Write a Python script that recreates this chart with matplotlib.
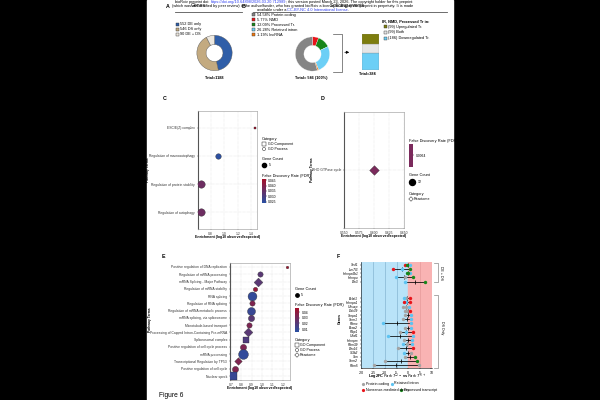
"""
Figure 6 page: gene / splicing-event donuts, enrichment dot plots and the
Log2FC range plot, laid out on a black letterbox like the screenshot.
"""
import matplotlib

matplotlib.use("Agg")
import matplotlib.pyplot as plt  # noqa: E402
import numpy as np  # noqa: E402
from matplotlib.colors import LinearSegmentedColormap, Normalize  # noqa: E402
from matplotlib.patches import Rectangle  # noqa: E402

plt.rcParams["font.family"] = ["Liberation Sans", "DejaVu Sans"]

# ---- A: genes --------------------------------------------------------------
a_labels = ["552 DE only", "546 DS only", "90 DE + DS"]
a_counts = [552, 546, 90]
a_colors = ["#2f5ea8", "#c3aa80", "#ede8df"]

# ---- B: splicing events ----------------------------------------------------
b_labels = ["54.58% Protein coding", "5.77% NMD", "12.09% Processed Tr.",
            "26.28% Retained intron", "1.19% lncRNA"]
b_pct = [54.58, 5.77, 12.09, 26.28, 1.19]
b_colors = ["#858585", "#e8141a", "#17861a", "#6ccff6", "#f07810"]
b_ring = [1, 2, 3, 4, 0]          # clockwise from 12 o'clock
bar_labels = ["(99) Upregulated Tr.", "(99) Both", "(186) Downregulated Tr."]
bar_counts = [99, 99, 186]
bar_colors = ["#7d7d0e", "#e6e6e6", "#6ccff6"]

# ---- C / D / E: enrichment -------------------------------------------------
c_terms = ["ESC/E(Z) complex", "Regulation of macroautophagy",
           "Regulation of protein stability", "Regulation of autophagy"]
c_enrich = [1.45, 0.91, 0.655, 0.655]
c_fdr = [0.046, 0.024, 0.036, 0.036]
c_count = [2, 5, 7, 7]
c_cat = ["GO Component", "GO Process", "GO Process", "GO Process"]
c_ticks = [0.8, 1.0, 1.2, 1.4]
c_bar_ticks = [0.045, 0.040, 0.035, 0.030, 0.025]

d_terms = ["RHO GTPase cycle"]
d_enrich = [0.600]
d_fdr = [0.0064]
d_count = [12]
d_cat = ["Reactome"]
d_ticks = [0.550, 0.575, 0.600, 0.625, 0.650]

e_terms = ["Positive regulation of DNA replication", "Regulation of mRNA processing",
           "mRNA Splicing - Major Pathway", "Regulation of mRNA stability",
           "RNA splicing", "Regulation of RNA splicing",
           "Regulation of mRNA metabolic process", "mRNA splicing, via spliceosome",
           "Microtubule-based transport",
           "Processing of Capped Intron-Containing Pre-mRNA",
           "Spliceosomal complex", "Positive regulation of cell cycle process",
           "mRNA processing", "Transcriptional Regulation by TP53",
           "Positive regulation of cell cycle", "Nuclear speck"]
e_enrich = [1.24, 0.98, 0.958, 0.932, 0.906, 0.90, 0.89, 0.89, 0.877, 0.867,
            0.842, 0.819, 0.813, 0.771, 0.742, 0.722]
e_fdr = [0.046, 0.021, 0.021, 0.041, 0.008, 0.034, 0.010, 0.021, 0.033, 0.021,
         0.018, 0.033, 0.008, 0.034, 0.034, 0.010]
e_count = [2, 5, 6, 4, 9, 5, 8, 6, 5, 6, 5, 6, 10, 5, 6, 7]
e_cat = ["GO Process", "GO Process", "Reactome", "GO Process", "GO Process",
         "GO Process", "GO Process", "GO Process", "GO Process", "Reactome",
         "GO Component", "GO Process", "GO Process", "Reactome", "GO Process",
         "GO Component"]
e_ticks = [0.7, 0.8, 0.9, 1.0, 1.1, 1.2]
e_bar_ticks = [0.04, 0.03, 0.02, 0.01]

# ---- F: Log2FC per transcript type ----------------------------------------
f_genes = ["Srsf1", "Luc7l3", "Hnrnpa2b1", "Hnrnpu", "Dlx3",
           "Bclaf1", "Hnrnpa1", "U2surp", "Ddx39", "Snrpa1", "Srrm1", "Rbmx",
           "Bcas2", "Ptbp1", "U2af1", "Hnrnpm", "Rbm39", "Dhx16", "Sf3b2",
           "Son", "Srrm2", "Rbm5"]
f_group_sizes = [5, 17]           # DE + DS, DS Only
f_pc = [[], [], [], [-1.5], [], [-0.8], [], [-2.2, -0.8], [-1.4, -0.3], [-1.4],
        [-2.0], [], [-1.2], [-3.7], [], [-1.8], [-0.5], [-4.2], [1.1], [-1.5],
        [-10.0], [-14.8, 4.7]]
f_ri = [[0.9], [-2.5], [1.0], [-5.4], [-1.3], [-1.8], [-0.7], [0.6], [], [1.3],
        [1.4], [-10.9, 1.4], [1.4], [-0.8], [-8.5, 1.9], [1.8], [-2.4, 1.8], [],
        [-1.6], [], [], []]
f_nmd = [[-1.3], [-6.5], [], [], [], [0.8], [-1.7, 0.9], [], [1.0], [], [], [],
         [], [1.9], [], [], [], [2.0], [], [], [], []]
f_pt = [[-0.3], [1.0], [-0.6, 0.1], [2.2], [7.3], [], [], [], [], [], [], [],
        [], [], [], [], [], [], [], [3.0], [3.8], []]
f_ticks = [-20, -15, -10, -5, 0, 5, 10]

CMAP = LinearSegmentedColormap.from_list("fdr", ["#2a50a2", "#a5102a"])
MARK = {"GO Component": "s", "GO Process": "o", "Reactome": "D"}
TYPE_COL = {"pc": "#a3a3a3", "ri": "#5cc3f2", "nmd": "#e8141a", "pt": "#17861a"}

W, H = 600, 400
fig = plt.figure(figsize=(6, 4), dpi=100, facecolor="black")
pg = fig.add_axes([0, 0, 1, 1])
pg.set_xlim(0, W)
pg.set_ylim(H, 0)
pg.axis("off")
pg.add_patch(Rectangle((147, 0), 306, H, color="white", zorder=0))

LEG = 2.8      # legend text
TICK = 2.4     # tick labels


def box(l, t, r, b):
    return fig.add_axes([l / W, 1 - b / H, (r - l) / W, (b - t) / H])


def txt(x, y, s, size=LEG, **kw):
    kw.setdefault("va", "center")
    kw.setdefault("ha", "left")
    return pg.text(x, y, s, fontsize=size, **kw)


def run(y, parts, x0=None, xc=None, size=2.8):
    r = fig.canvas.get_renderer()
    objs = [txt(0, y, s, size, color=c) for s, c in parts]
    ws = [o.get_window_extent(renderer=r).width for o in objs]
    x = x0 if x0 is not None else xc - sum(ws) / 2
    for o, w in zip(objs, ws):
        o.set_x(x)
        x += w


def msize(d):                      # marker diameter in px -> scatter s
    return (d * 0.72) ** 2


# ---- header ---------------------------------------------------------------
LINK = "#2b3cf0"
run(2, [("bioRxiv preprint doi: ", "k"),
        ("https://doi.org/10.64898/2026.03.20.712989", LINK),
        ("; this version posted March 23, 2026. The copyright holder for this preprint", "k")],
    x0=175)
run(6.2, [("(which was not certified by peer review) is the author/funder, who has granted "
           "bioRxiv a license to display the preprint in perpetuity. It is made", "k")], x0=172)
run(10.4, [("available under a", "k"), ("CC-BY-NC 4.0 International license", LINK),
           (".", "k")], xc=303)

txt(168, 6, "A", 3.8, weight="bold", ha="center")
txt(244, 6, "B", 3.8, weight="bold", ha="center")
txt(198, 5.5, "Genes", 3.6, ha="center")
txt(347, 5.5, "Splicing events", 3.6, ha="center")
pg.plot([175, 242], [12, 12], color="#555555", lw=0.6)
pg.plot([253, 447], [12, 12], color="#555555", lw=0.6)

# ---- A donut --------------------------------------------------------------
axA = box(196.5, 35, 232.5, 71)
axA.pie(a_counts, colors=a_colors, startangle=90, counterclock=False,
        wedgeprops=dict(width=0.52, edgecolor="#555555", linewidth=0.3))
axA.set_xlim(-1.02, 1.02)
axA.set_ylim(-1.02, 1.02)
for i, lab in enumerate(a_labels):
    y = 24 + 5 * i
    pg.add_patch(Rectangle((175.5, y - 1.5), 3, 3, fc=a_colors[i], ec="#333333", lw=0.3))
    txt(180.5, y, lab)
txt(215, 78, "Total=1188", weight="bold", ha="center")

# ---- B donut + bar --------------------------------------------------------
axB = box(295, 36, 330, 72)
axB.pie([b_pct[i] for i in b_ring], colors=[b_colors[i] for i in b_ring],
        startangle=90, counterclock=False,
        wedgeprops=dict(width=0.5, edgecolor="white", linewidth=0.2))
axB.set_xlim(-1.02, 1.02)
axB.set_ylim(-1.02, 1.02)
for i, lab in enumerate(b_labels):
    y = 14.7 + 5.05 * i
    pg.add_patch(Rectangle((252, y - 1.5), 3, 3, fc=b_colors[i], ec="#333333", lw=0.3))
    txt(256.7, y, lab)
txt(311.5, 77.7, "Total= 546 (100%)", weight="bold", ha="center")

pg.plot([333, 341.7, 341.7, 333], [34, 34, 72, 72], color="#555555", lw=0.5)
pg.annotate("", xy=(352, 52.3), xytext=(342, 52.3),
            arrowprops=dict(arrowstyle="-|>", color="black", lw=0.5, mutation_scale=4))

axBar = box(362, 34.3, 379, 70)
bottom = 0
for i in [2, 1, 0]:
    axBar.bar(0, bar_counts[i], bottom=bottom, width=1, color=bar_colors[i],
              edgecolor="#888888", linewidth=0.2)
    bottom += bar_counts[i]
axBar.set_xlim(-0.5, 0.5)
axBar.set_ylim(0, sum(bar_counts))
axBar.axis("off")
txt(368, 74, "Total=384", weight="bold", ha="center")
txt(382, 21, "IR, NMD, Processed Tr in:", weight="bold")
for i, lab in enumerate(bar_labels):
    y = 26.7 + 5.8 * i
    pg.add_patch(Rectangle((384.3, y - 1.5), 3, 3, fc=bar_colors[i], ec="#333333", lw=0.3))
    txt(388.5, y, lab)


# ---- enrichment dot plots --------------------------------------------------
def dot_panel(rect, terms, enrich, fdr, count, cat, xlim, ticks, fmt, norm, pad, k):
    ax = box(*rect)
    ys = np.arange(len(terms))
    for i in range(len(terms)):
        col = CMAP(norm(fdr[i])) if norm is not None else "#7b2a5c"
        ax.scatter(enrich[i], ys[i], s=msize(k * count[i] + 0.8), marker=MARK[cat[i]],
                   color=col, edgecolors="#2a2a2a", linewidths=0.25, zorder=3)
    ax.set_yticks(ys)
    ax.set_yticklabels(terms, fontsize=TICK)
    ax.set_ylim(len(terms) - 1 + pad, -pad)
    ax.set_xlim(*xlim)
    ax.set_xticks(ticks)
    ax.set_xticklabels([fmt.format(t) for t in ticks], fontsize=TICK)
    ax.grid(True, ls=":", lw=0.35, color="#cfcfcf")
    ax.tick_params(length=1, width=0.3, pad=1, colors="#333333")
    for s in ax.spines.values():
        s.set_color("#aaaaaa")
        s.set_linewidth(0.5)
    ax.spines["left"].set_color("#555555")
    ax.spines["left"].set_linewidth(0.8)
    return ax


def fdr_bar(l, t, r, b, vmin, vmax, ticks, fmt, color=None):
    cax = box(l, t, r, b)
    if color is None:
        grad = np.linspace(vmin, vmax, 100)[:, None]
        cax.imshow(grad, aspect="auto", cmap=CMAP, norm=Normalize(vmin, vmax),
                   origin="lower", extent=[0, 1, vmin, vmax])
    else:
        cax.add_patch(Rectangle((0, vmin), 1, vmax - vmin, color=color))
        cax.set_xlim(0, 1)
        cax.set_ylim(vmin, vmax)
    cax.set_xticks([])
    cax.yaxis.tick_right()
    cax.set_yticks(ticks)
    cax.set_yticklabels([fmt.format(t) for t in ticks], fontsize=TICK)
    cax.tick_params(length=0.8, width=0.3, pad=1)
    for s in cax.spines.values():
        s.set_visible(False)


# C
c_norm = Normalize(0.0236, 0.0464)
dot_panel((198, 111, 257, 229), c_terms, c_enrich, c_fdr, c_count, c_cat,
          (0.612, 1.486), c_ticks, "{:.1f}", c_norm, 0.6, 0.95)
txt(165, 98, "C", 3.8, weight="bold", ha="center")
txt(148.5, 170, "Pathway Terms", 2.4, weight="bold", rotation=90, ha="center")
txt(227.5, 237, "Enrichment (log10 observed/expected)", 2.5, weight="bold", ha="center")
txt(262, 139, "Category")
pg.scatter(264, 144, s=msize(3.2), marker="s", facecolors="none", edgecolors="k", linewidths=0.3)
txt(268, 144, "GO Component", 2.6)
pg.scatter(264, 149, s=msize(3.2), marker="o", facecolors="none", edgecolors="k", linewidths=0.3)
txt(268, 149, "GO Process", 2.6)
txt(262, 159, "Gene Count")
pg.scatter(264, 165, s=msize(4.2), marker="o", color="k")
txt(269, 165, "5", 2.6)
txt(262, 176, "False Discovery Rate (FDR)")
fdr_bar(262, 179, 265.5, 203, 0.0236, 0.0464, c_bar_ticks, "{:.3f}")

# D
dot_panel((344, 112, 404, 228), d_terms, d_enrich, d_fdr, d_count, d_cat,
          (0.55, 0.65), d_ticks, "{:.3f}", None, 1.0, 0.5)
txt(323, 98, "D", 3.8, weight="bold", ha="center")
txt(312, 170, "Pathway Terms", 2.4, weight="bold", rotation=90, ha="center")
txt(374, 236, "Enrichment (log10 observed/expected)", 2.5, weight="bold", ha="center")
txt(409, 141, "False Discovery Rate (FDR)")
fdr_bar(409, 143.5, 413, 167, 0.0, 1.0, [0.5], "0.0064", color="#7b2a5c")
txt(409, 175, "Gene Count")
pg.scatter(412, 182, s=msize(6), marker="o", color="k")
txt(418, 182, "12", 2.6)
txt(409, 194, "Category")
pg.scatter(411, 199, s=msize(3.2), marker="D", facecolors="none", edgecolors="k", linewidths=0.3)
txt(414, 199, "Reactome", 2.6)

# E
e_norm = Normalize(0.005, 0.047)
dot_panel((230, 263, 290, 380), e_terms, e_enrich, e_fdr, e_count, e_cat,
          (0.69, 1.27), e_ticks, "{:.1f}", e_norm, 0.55, 0.9)
txt(163, 257, "E", 3.8, weight="bold", ha="center")
txt(150, 320, "Pathway Terms", 2.4, weight="bold", rotation=90, ha="center")
txt(260, 388, "Enrichment (log10 observed/expected)", 2.5, weight="bold", ha="center")
txt(295, 289, "Gene Count")
pg.scatter(297, 295, s=msize(3.4), marker="o", color="k")
txt(301, 295, "5", 2.6)
txt(295, 305, "False Discovery Rate (FDR)")
fdr_bar(295, 308, 299, 332, 0.005, 0.047, e_bar_ticks, "{:.2f}")
txt(295, 340, "Category")
pg.scatter(297, 345, s=msize(3.2), marker="s", facecolors="none", edgecolors="k", linewidths=0.3)
txt(300, 345, "GO Component", 2.6)
pg.scatter(297, 350, s=msize(3.2), marker="o", facecolors="none", edgecolors="k", linewidths=0.3)
txt(300, 350, "GO Process", 2.6)
pg.scatter(297, 355, s=msize(3.2), marker="D", facecolors="none", edgecolors="k", linewidths=0.3)
txt(300, 355, "Reactome", 2.6)

# ---- F: range plot --------------------------------------------------------
axF = box(361, 262, 432, 368)
gap = 3
slots = list(range(f_group_sizes[0])) + \
    list(range(f_group_sizes[0] + gap, f_group_sizes[0] + gap + f_group_sizes[1]))
n_slots = slots[-1] + 1
axF.axvspan(-20.3, 0, color="#b9e3f8", zorder=0)
axF.axvspan(0, 10.3, color="#f9b3b3", zorder=0)
for v in [-15, -10, -5]:
    axF.axvline(v, color="#86b6d2", lw=0.5, zorder=1)
axF.axvline(5, color="#e59a9a", lw=0.5, zorder=1)
for i, g in enumerate(f_genes):
    y = slots[i]
    vals = f_pc[i] + f_ri[i] + f_nmd[i] + f_pt[i]
    axF.plot([min(vals), max(vals)], [y, y], color="black", lw=0.55, zorder=2)
    axF.plot([np.mean(vals)], [y], marker="|", ms=2.8, mew=0.55, color="black", zorder=2)
    for key, arr in (("pc", f_pc), ("ri", f_ri), ("nmd", f_nmd), ("pt", f_pt)):
        if arr[i]:
            axF.scatter(arr[i], [y] * len(arr[i]), s=msize(3.4), color=TYPE_COL[key],
                        linewidths=0, zorder=3)
axF.set_xlim(-20.3, 10.3)
axF.set_ylim(n_slots - 1 + 0.7, -0.7)
axF.set_yticks(slots)
axF.set_yticklabels(f_genes, fontsize=2.3, style="italic")
axF.set_xticks(f_ticks)
axF.set_xticklabels([str(t) for t in f_ticks], fontsize=2.5)
axF.tick_params(length=1, width=0.3, pad=1)
for s in ("top", "right"):
    axF.spines[s].set_visible(False)
for s in ("left", "bottom"):
    axF.spines[s].set_linewidth(0.4)
txt(338, 257, "F", 3.8, weight="bold", ha="center")
txt(340, 318, "Genes", 2.6, weight="bold", rotation=90, ha="center")
txt(397, 377, r"Log2FC $\it{Park7}^{-/-}$ vs $\it{Park7}^{+/+}$", 2.8,
    weight="bold", ha="center")
pg.plot([434, 438, 438, 434], [263, 263, 282, 282], color="#888888", lw=0.5)
pg.plot([434, 438, 438, 434], [295, 295, 368, 368], color="#888888", lw=0.5)
txt(441.5, 272.5, "DE + DS", 2.6, rotation=-90, ha="center")
txt(441.5, 328, "DS Only", 2.6, rotation=-90, ha="center")
for x, y, key, lab in ((363, 383.5, "pc", "Protein coding"),
                       (392, 383.5, "ri", "Retained intron"),
                       (363, 389.5, "nmd", "Nonsense-mediated decay"),
                       (401, 389.5, "pt", "Processed transcript")):
    pg.scatter(x, y, s=msize(3.2), color=TYPE_COL[key], linewidths=0)
    txt(x + 2.5, y, lab, 2.6)

txt(159, 395.5, "Figure 6", 4.8)

fig.savefig("out.png", dpi=100, facecolor="black")
